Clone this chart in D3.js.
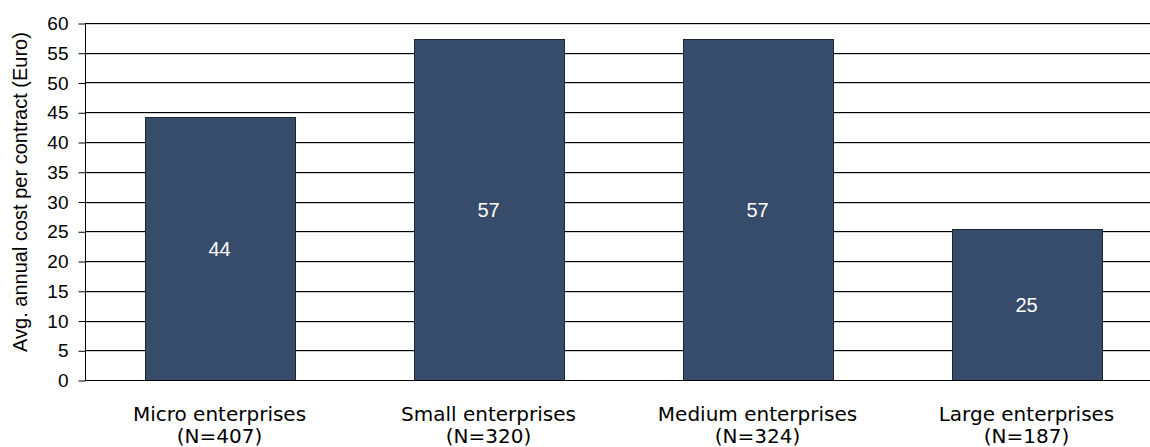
<!DOCTYPE html>
<html><head><meta charset="utf-8">
<script src="https://cdn.jsdelivr.net/npm/d3@7"></script>
<style>body{margin:0;background:#fff}svg{display:block}</style>
</head><body>
<svg id="c" width="1150" height="447"></svg>
<script>
const categories = ["Micro enterprises", "Small enterprises", "Medium enterprises", "Large enterprises"];
const sampleSizes = ["(N=407)", "(N=320)", "(N=324)", "(N=187)"];
const values = [44.2, 57.3, 57.3, 25.3];
const valueLabels = ["44", "57", "57", "25"];
const yTicks = [0, 5, 10, 15, 20, 25, 30, 35, 40, 45, 50, 55, 60];
const yTitle = "Avg. annual cost per contract (Euro)";

(function () {
const SANS = "'Liberation Sans', Arial, Helvetica, sans-serif";
const VERD = "'DejaVu Sans', Verdana, sans-serif";
const svg = d3.select("#c");
const left = 85, right = 1161, plotTop = 23, bottom = 380, clipRight = 1150;

const x = d3.scaleBand().domain(categories).range([left, right])
  .paddingInner(0.4424).paddingOuter(0.2212);
const y = d3.scaleLinear().domain([0, 60]).range([bottom, plotTop]);

// gridlines
const g = svg.append("g");
yTicks.filter(t => t > 0).forEach(t => {
  g.append("line").attr("x1", left).attr("x2", clipRight)
    .attr("y1", Math.round(y(t)) + 1.5).attr("y2", Math.round(y(t)) + 1.5)
    .attr("stroke", "#d0d0d0").attr("stroke-width", 1);
  g.append("line").attr("x1", left).attr("x2", clipRight)
    .attr("y1", Math.round(y(t)) + 0.5).attr("y2", Math.round(y(t)) + 0.5)
    .attr("stroke", "#000").attr("stroke-width", 1);
});

// y axis
const yAxis = d3.axisLeft(y).tickValues(yTicks).tickSize(7).tickPadding(10);
const ya = svg.append("g").attr("transform", `translate(${left + 0.5},0.5)`).call(yAxis);
ya.select(".domain").remove();
ya.selectAll(".tick line").attr("stroke", "#000");
ya.selectAll(".tick text").style("font-family", SANS)
  .style("font-size", "19px").attr("fill", "#000");
svg.append("line").attr("x1", left + 0.5).attr("x2", left + 0.5)
  .attr("y1", plotTop).attr("y2", bottom).attr("stroke", "#000");

// bars
svg.append("g").selectAll("rect").data(categories).join("rect")
  .attr("x", d => Math.round(x(d)) + 0.5)
  .attr("y", (d, i) => Math.round(y(values[i])) + 0.5)
  .attr("width", Math.round(x.bandwidth()))
  .attr("height", (d, i) => Math.round(y(0)) - Math.round(y(values[i])))
  .attr("fill", "#374c6b").attr("stroke", "#1e2533").attr("stroke-width", 1);

// bar labels
svg.append("g").selectAll("text").data(categories).join("text")
  .attr("x", d => x(d) + x.bandwidth() / 2)
  .attr("y", (d, i) => (y(values[i]) + y(0)) / 2)
  .attr("dy", "0.35em").attr("text-anchor", "middle")
  .style("font-family", SANS).style("font-size", "20px")
  .attr("fill", "#fff").text((d, i) => valueLabels[i]);

// x axis baseline
svg.append("line").attr("x1", left).attr("x2", clipRight)
  .attr("y1", bottom + 0.5).attr("y2", bottom + 0.5).attr("stroke", "#000");

// x labels
const xl = svg.append("g").selectAll("text").data(categories).join("text")
  .attr("x", d => x(d) + x.bandwidth() / 2)
  .attr("text-anchor", "middle")
  .style("font-family", VERD).style("font-size", "20px")
  .attr("fill", "#000");
xl.append("tspan").attr("x", d => x(d) + x.bandwidth() / 2).attr("y", 421).text(d => d);
xl.append("tspan").attr("x", d => x(d) + x.bandwidth() / 2).attr("y", 443).text((d, i) => sampleSizes[i]);

// y title
svg.append("text").attr("transform", `translate(27,192) rotate(-90)`)
  .attr("text-anchor", "middle")
  .style("font-family", SANS).style("font-size", "20px")
  .attr("fill", "#000").text(yTitle);
})();
</script>
</body></html>
